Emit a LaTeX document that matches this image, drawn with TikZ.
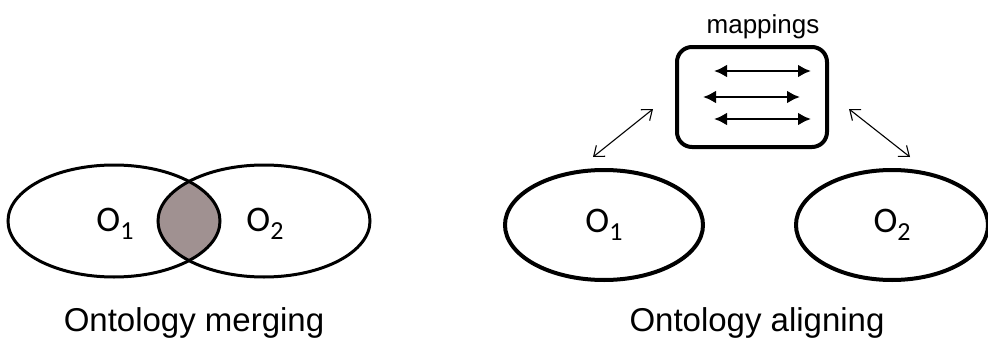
\documentclass[tikz,border=0pt]{standalone}
\usepackage{fontspec}
\setmainfont{Liberation Sans}
\newfontfamily\calfont{Carlito}
\usetikzlibrary{shapes.geometric,arrows.meta,positioning}
\newcommand{\ont}[1]{{\calfont\fontsize{36}{36}\selectfont O\raisebox{-8pt}{\fontsize{26}{26}\selectfont #1}}}
\begin{document}
\begin{tikzpicture}[x=1pt,y=-1pt]
\tikzstyle{every node}+=[inner sep=0pt]
\tikzstyle{onto}=[draw,ellipse,line width=3pt]
\tikzstyle{caption}=[font=\fontsize{33}{33}\selectfont,anchor=base]
\tikzstyle{maparrow}=[line width=2.6pt,{Latex[length=13pt,width=13pt]}-{Latex[length=13pt,width=13pt]}]
\tikzstyle{link}=[line width=1.1pt,{Straight Barb[length=9pt,width=14pt]}-{Straight Barb[length=9pt,width=14pt]}]
\useasboundingbox (0,0) rectangle (988,340);
\definecolor{lensgray}{RGB}{160,145,145}
\begin{scope}
\clip (114,221) ellipse [x radius=106, y radius=56];
\fill [lensgray] (264,221) ellipse [x radius=106, y radius=56];
\end{scope}
\node [onto,minimum width=212pt,minimum height=112pt] (mergeA) at (114,221) {};
\node [onto,minimum width=212pt,minimum height=112pt] (mergeB) at (264,221) {};
\node (labelA) at (115,224) {\ont{1}};
\node (labelB) at (265,224) {\ont{2}};
\node [caption] (merging) at (194,331) {Ontology merging};
\node [onto,line width=4pt,minimum width=198pt,minimum height=110pt] (alignA) at (604,225) {\ont{1}};
\node [onto,line width=4pt,minimum width=192pt,minimum height=110pt] (alignB) at (892,225) {\ont{2}};
\node [draw,line width=4pt,rounded corners=15pt,minimum width=150pt,minimum height=100pt] (map) at (752,97) {};
\node [font=\fontsize{26}{26}\selectfont,anchor=base] (mapname) at (763,33) {mappings};
\node [caption] (aligning) at (757,331) {Ontology aligning};
\foreach \y/\xa/\xb [count=\i] in {71/714/811,97/703/800,119/714/811} {
  \coordinate (m\i l) at (\xa,\y);
  \coordinate (m\i r) at (\xb,\y);
  \draw [maparrow] (m\i l) -- (m\i r);
}
\coordinate (la) at (593,157);
\coordinate (lb) at (653,109);
\coordinate (ra) at (849,109);
\coordinate (rb) at (910,157);
\draw [link] (la) -- (lb);
\draw [link] (ra) -- (rb);
\end{tikzpicture}
\end{document}
